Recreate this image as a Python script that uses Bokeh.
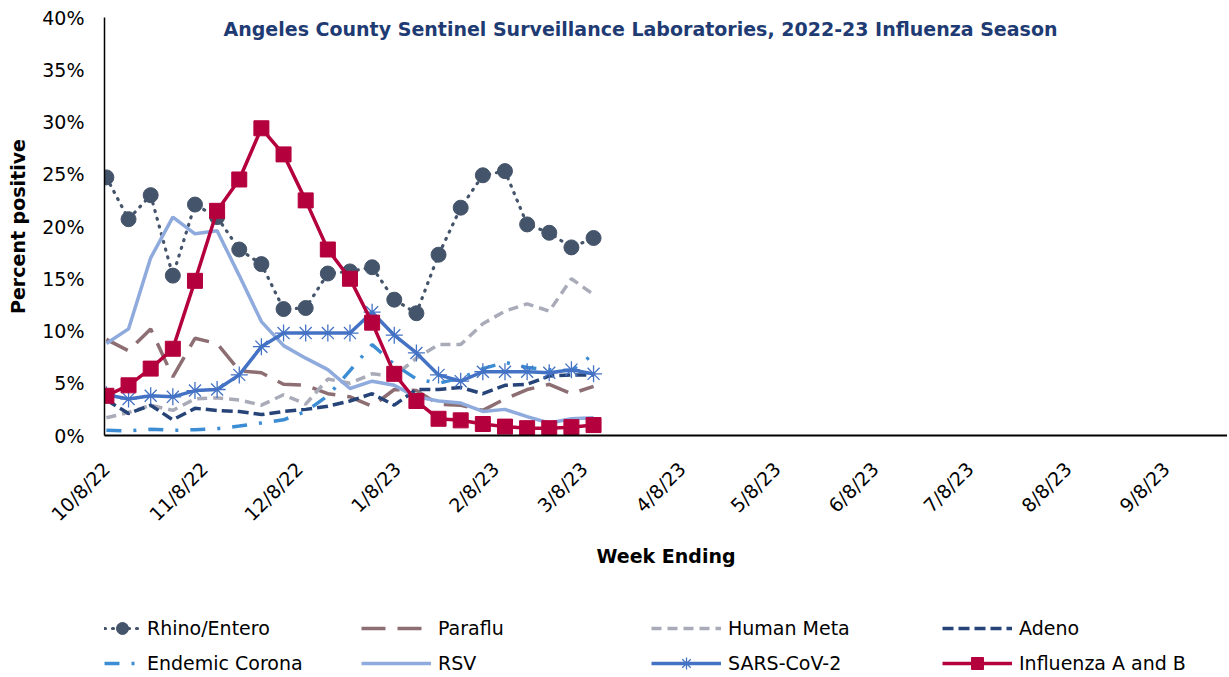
from datetime import date
from math import pi
from bokeh.plotting import figure
from bokeh.layouts import column
from bokeh.models import (Range1d, FixedTicker, PrintfTickFormatter, Legend,
                          LegendItem, Label, ColumnDataSource)
from bokeh.embed import file_html
from bokeh.resources import INLINE

# ---------------- data ----------------
week_ending = ["10/8/22", "10/15/22", "10/22/22", "10/29/22", "11/5/22", "11/12/22",
               "11/19/22", "11/26/22", "12/3/22", "12/10/22", "12/17/22", "12/24/22",
               "12/31/22", "1/7/23", "1/14/23", "1/21/23", "1/28/23", "2/4/23",
               "2/11/23", "2/18/23", "2/25/23", "3/4/23", "3/11/23"]

rhino_entero = [24.7, 20.7, 23.0, 15.3, 22.1, 20.9, 17.8, 16.4, 12.1, 12.2, 15.5, 15.7,
                16.1, 13.0, 11.7, 17.3, 21.8, 24.9, 25.3, 20.2, 19.4, 18.0, 18.9]
paraflu = [9.2, 8.1, 10.2, 5.6, 9.3, 8.8, 6.2, 6.0, 4.9, 4.8, 4.0, 3.7,
           2.8, 4.4, 4.3, 3.0, 2.9, 2.4, 3.5, 4.4, 4.9, 4.0, 4.7]
human_meta = [1.7, 2.2, 2.9, 2.4, 3.5, 3.6, 3.4, 2.9, 3.9, 3.0, 5.4, 5.0,
              5.9, 5.7, 7.4, 8.7, 8.7, 10.7, 11.9, 12.6, 11.9, 15.0, 13.5]
adeno = [3.4, 2.1, 2.9, 1.5, 2.6, 2.4, 2.3, 2.0, 2.3, 2.5, 2.8, 3.3,
         4.0, 2.9, 4.4, 4.4, 4.6, 4.0, 4.8, 4.9, 5.7, 5.8, 5.8]
endemic_corona = [0.5, 0.45, 0.6, 0.5, 0.55, 0.65, 0.9, 1.2, 1.5, 2.3, 3.8, 6.2,
                  8.7, 6.8, 5.4, 5.0, 5.5, 6.4, 7.0, 6.5, 6.3, 6.2, 7.8]
rsv = [8.8, 10.2, 17.0, 20.9, 19.3, 19.6, 15.3, 10.9, 8.6, 7.4, 6.3, 4.5,
       5.2, 4.8, 3.7, 3.3, 3.1, 2.3, 2.5, 1.8, 1.2, 1.6, 1.7]
sars_cov_2 = [3.9, 3.5, 3.8, 3.7, 4.3, 4.4, 5.8, 8.5, 9.8, 9.8, 9.8, 9.8,
              11.8, 9.6, 7.9, 5.8, 5.2, 6.1, 6.1, 6.1, 6.0, 6.3, 5.9]
influenza = [3.8, 4.8, 6.4, 8.3, 14.8, 21.5, 24.5, 29.4, 26.9, 22.5, 17.8, 15.0,
             10.8, 5.9, 3.3, 1.6, 1.45, 1.1, 0.85, 0.7, 0.7, 0.8, 1.0]

x_tick_labels = ["10/8/22", "11/8/22", "12/8/22", "1/8/23", "2/8/23", "3/8/23",
                 "4/8/23", "5/8/23", "6/8/23", "7/8/23", "8/8/23", "9/8/23"]
y_ticks = [0, 5, 10, 15, 20, 25, 30, 35, 40]

title_text = "Angeles County Sentinel Surveillance Laboratories, 2022-23 Influenza Season"

# ---------------- helpers ----------------
ORIGIN = date(2022, 10, 8)


def to_day(s):
    m, d, y = (int(v) for v in s.split("/"))
    return (date(2000 + y, m, d) - ORIGIN).days


xs = [to_day(s) for s in week_ending]
tick_pos = [to_day(s) for s in x_tick_labels]

FONT = "DejaVu Sans"

p = figure(width=1227, height=582, output_backend="svg", toolbar_location=None,
           x_range=Range1d(-0.6, 354.4), y_range=Range1d(0, 40),
           min_border_left=104, min_border_right=0, min_border_top=17,
           min_border_bottom=147)
p.outline_line_color = None
p.xgrid.visible = False
p.ygrid.visible = False
p.background_fill_color = "white"
p.border_fill_color = "white"

# axes
p.yaxis.ticker = FixedTicker(ticks=y_ticks)
p.yaxis.formatter = PrintfTickFormatter(format="%d%%")
p.yaxis.major_tick_out = 0
p.yaxis.major_tick_in = 0
p.yaxis.minor_tick_out = 0
p.yaxis.minor_tick_in = 0
p.yaxis.major_label_standoff = 20
p.yaxis.major_label_text_font = FONT
p.yaxis.major_label_text_font_size = "19px"
p.yaxis.major_label_text_color = "black"
p.yaxis.axis_line_color = "black"
p.yaxis.axis_line_width = 1.5
p.yaxis.axis_label = "Percent positive"
p.yaxis.axis_label_text_font = FONT
p.yaxis.axis_label_text_font_style = "bold"
p.yaxis.axis_label_text_font_size = "19px"
p.yaxis.axis_label_text_color = "black"
p.yaxis.axis_label_standoff = 10

p.xaxis.ticker = FixedTicker(ticks=tick_pos)
p.xaxis.major_label_overrides = {t: lbl for t, lbl in zip(tick_pos, x_tick_labels)}
p.xaxis.major_tick_out = 0
p.xaxis.major_tick_in = 0
p.xaxis.minor_tick_out = 0
p.xaxis.minor_tick_in = 0
p.xaxis.major_label_orientation = pi / 4
p.xaxis.major_label_standoff = 30
p.xaxis.major_label_text_font = FONT
p.xaxis.major_label_text_font_size = "19px"
p.xaxis.major_label_text_color = "black"
p.xaxis.axis_line_color = "black"
p.xaxis.axis_line_width = 2
p.xaxis.axis_label = "Week Ending"
p.xaxis.axis_label_text_font = FONT
p.xaxis.axis_label_text_font_style = "bold"
p.xaxis.axis_label_text_font_size = "19px"
p.xaxis.axis_label_text_color = "black"
p.xaxis.axis_label_standoff = 9

src = ColumnDataSource(dict(x=xs, rhino=rhino_entero, para=paraflu, hm=human_meta,
                            adeno=adeno, ec=endemic_corona, rsv=rsv,
                            sars=sars_cov_2, flu=influenza))

LW = 3.5
STYLES = {
    "rhino_l": dict(line_color="#44546A", line_width=3.2, line_dash="1 7", line_cap="round"),
    "rhino_m": dict(marker="circle", size=15, fill_color="#44546A", line_color="#44546A"),
    "para": dict(line_color="#8C6E73", line_width=LW, line_dash="24 12"),
    "hm": dict(line_color="#A9ABB8", line_width=LW, line_dash="10 6"),
    "adeno": dict(line_color="#264478", line_width=LW, line_dash="11 5"),
    "ec": dict(line_color="#3C8DD4", line_width=LW, line_dash="15 12 3 12"),
    "rsv": dict(line_color="#8FAADC", line_width=LW),
    "sars_l": dict(line_color="#4472C4", line_width=LW),
    "sars_m": dict(marker="asterisk", size=17, line_color="#4472C4", line_width=1.3),
    "flu_l": dict(line_color="#B4003C", line_width=LW),
    "flu_m": dict(marker="square", size=15, fill_color="#B4003C", line_color="#B4003C"),
}

p.line("x", "rhino", source=src, **STYLES["rhino_l"])
p.scatter("x", "rhino", source=src, **STYLES["rhino_m"])
p.line("x", "para", source=src, **STYLES["para"])
p.line("x", "hm", source=src, **STYLES["hm"])
p.line("x", "adeno", source=src, **STYLES["adeno"])
p.line("x", "ec", source=src, **STYLES["ec"])
p.line("x", "rsv", source=src, **STYLES["rsv"])
p.line("x", "sars", source=src, **STYLES["sars_l"])
p.scatter("x", "sars", source=src, **STYLES["sars_m"])
p.line("x", "flu", source=src, **STYLES["flu_l"])
p.scatter("x", "flu", source=src, **STYLES["flu_m"])

title = Label(x=536, y=418, x_units="screen", y_units="screen", text=title_text,
              text_align="center", text_baseline="top", text_font=FONT,
              text_font_style="bold", text_font_size="19px", text_color="#1F3B73")
p.add_layout(title)

# ---------------- legend strip (separate figure below) ----------------
q = figure(width=1227, height=93, output_backend="svg", toolbar_location=None,
           x_range=Range1d(0, 1), y_range=Range1d(0, 1),
           x_axis_location=None, y_axis_location=None,
           min_border_left=0, min_border_right=0, min_border_top=0,
           min_border_bottom=0)
q.xgrid.visible = False
q.ygrid.visible = False
q.outline_line_color = None
q.background_fill_color = "white"
q.border_fill_color = "white"

dummy = ColumnDataSource(dict(x=[-10], y=[-10]))


def proxy(kind, key):
    if kind == "line":
        return q.line("x", "y", source=dummy, **STYLES[key])
    return q.scatter("x", "y", source=dummy, **STYLES[key])


# (items, x relative to the column-aligned frame left edge, glyph width)
columns_spec = [
    ([("Rhino/Entero", [("line", "rhino_l"), ("m", "rhino_m")]),
      ("Endemic Corona", [("line", "ec")])], 0, 36),
    ([("Paraflu", [("line", "para")]), ("RSV", [("line", "rsv")])], 257, 70),
    ([("Human Meta", [("line", "hm")]),
      ("SARS-CoV-2", [("line", "sars_l"), ("m", "sars_m")])], 547, 70),
    ([("Adeno", [("line", "adeno")]),
      ("Influenza A and B", [("line", "flu_l"), ("m", "flu_m")])], 838, 70),
]
for items, xloc, gw in columns_spec:
    litems = [LegendItem(label=lab, renderers=[proxy(k, s) for k, s in rs])
              for lab, rs in items]
    lg = Legend(items=litems, location=(xloc, -3), orientation="vertical",
                glyph_width=gw, glyph_height=30, label_height=30,
                label_standoff=7, spacing=5, padding=0, margin=0,
                border_line_color=None, background_fill_alpha=0,
                label_text_font=FONT, label_text_font_size="19px",
                label_text_color="black")
    q.add_layout(lg, "center")

layout = column(p, q, spacing=0)
open("out.html", "w").write(file_html(layout, INLINE))
